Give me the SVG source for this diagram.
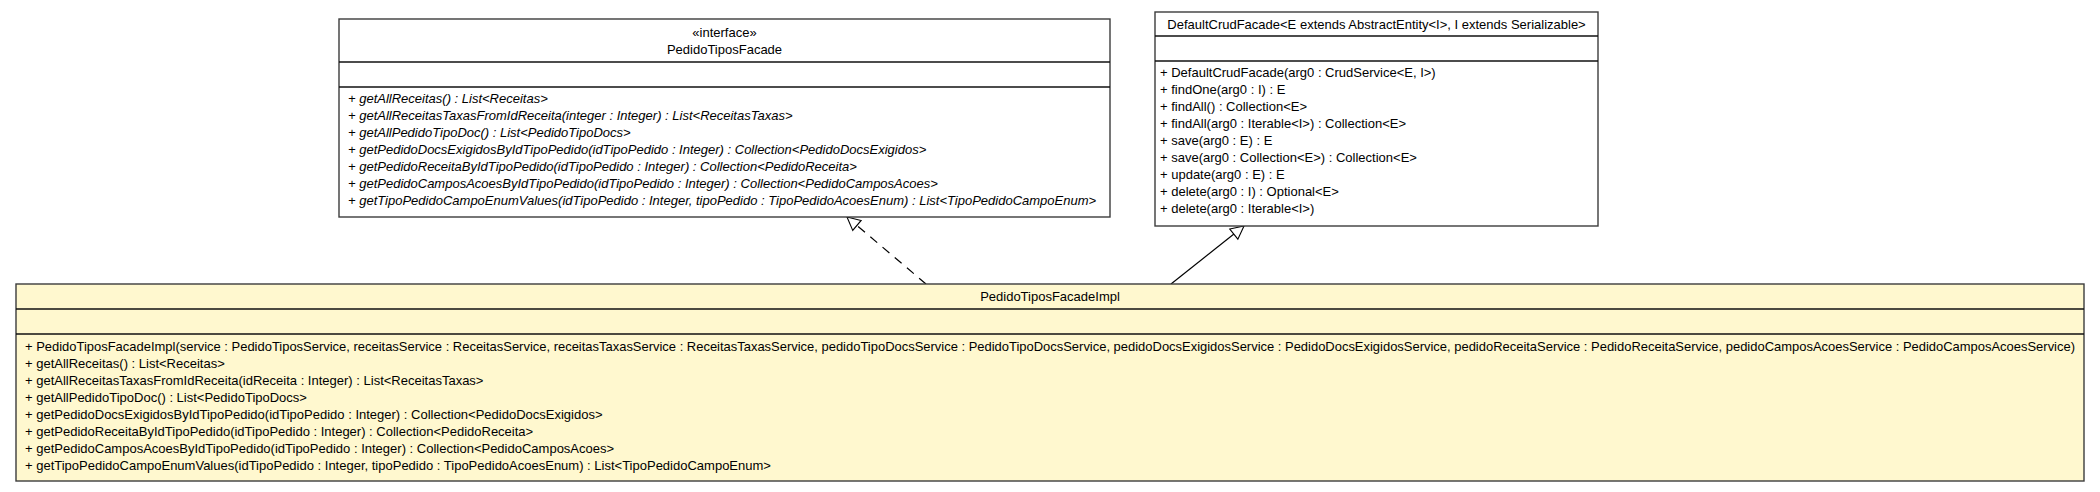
<svg xmlns="http://www.w3.org/2000/svg" width="2100" height="492" viewBox="0 0 2100 492">
<style>
text{font-family:"Liberation Sans",Arial,sans-serif;font-size:13px;fill:#000}
.it{font-style:italic}
.c{text-anchor:middle}
.box{fill:#fff;stroke:#3c3c3c;stroke-width:1.4}
.impl{fill:#fff8cf;stroke:#3c3c3c;stroke-width:1.4}
.sep{stroke:#111;stroke-width:1.6}
.edge{fill:none;stroke:#000;stroke-width:1.2}
</style>
<defs>
<marker id="tri" markerUnits="userSpaceOnUse" markerWidth="16" markerHeight="16" viewBox="-1 -8 15 16" refX="13" refY="0" orient="auto">
<path d="M0,-6.5 L13,0 L0,6.5 Z" fill="#fff" stroke="#000" stroke-width="1.1"/>
</marker>
</defs>
<g id="connectors">
<line class="edge" x1="926" y1="284" x2="847" y2="217" stroke-dasharray="9,7" marker-end="url(#tri)"/>
<line class="edge" x1="1171" y1="284" x2="1244" y2="226" marker-end="url(#tri)"/>
</g>
<g id="PedidoTiposFacade">
<rect class="box" x="339" y="19" width="771" height="198"/>
<line class="sep" x1="339" y1="62" x2="1110" y2="62"/>
<line class="sep" x1="339" y1="87" x2="1110" y2="87"/>
<text class="c" x="724.5" y="37">«interface»</text>
<text class="c" x="724.5" y="54">PedidoTiposFacade</text>
<text class="it" x="348" y="103">+ getAllReceitas() : List&lt;Receitas&gt;</text>
<text class="it" x="348" y="120">+ getAllReceitasTaxasFromIdReceita(integer : Integer) : List&lt;ReceitasTaxas&gt;</text>
<text class="it" x="348" y="137">+ getAllPedidoTipoDoc() : List&lt;PedidoTipoDocs&gt;</text>
<text class="it" x="348" y="154">+ getPedidoDocsExigidosByIdTipoPedido(idTipoPedido : Integer) : Collection&lt;PedidoDocsExigidos&gt;</text>
<text class="it" x="348" y="171">+ getPedidoReceitaByIdTipoPedido(idTipoPedido : Integer) : Collection&lt;PedidoReceita&gt;</text>
<text class="it" x="348" y="188">+ getPedidoCamposAcoesByIdTipoPedido(idTipoPedido : Integer) : Collection&lt;PedidoCamposAcoes&gt;</text>
<text class="it" x="348" y="205">+ getTipoPedidoCampoEnumValues(idTipoPedido : Integer, tipoPedido : TipoPedidoAcoesEnum) : List&lt;TipoPedidoCampoEnum&gt;</text>
</g>
<g id="DefaultCrudFacade">
<rect class="box" x="1155" y="12" width="443" height="214"/>
<line class="sep" x1="1155" y1="36" x2="1598" y2="36"/>
<line class="sep" x1="1155" y1="61" x2="1598" y2="61"/>
<text class="c" x="1376.5" y="29">DefaultCrudFacade&lt;E extends AbstractEntity&lt;I&gt;, I extends Serializable&gt;</text>
<text x="1160" y="77">+ DefaultCrudFacade(arg0 : CrudService&lt;E, I&gt;)</text>
<text x="1160" y="94">+ findOne(arg0 : I) : E</text>
<text x="1160" y="111">+ findAll() : Collection&lt;E&gt;</text>
<text x="1160" y="128">+ findAll(arg0 : Iterable&lt;I&gt;) : Collection&lt;E&gt;</text>
<text x="1160" y="145">+ save(arg0 : E) : E</text>
<text x="1160" y="162">+ save(arg0 : Collection&lt;E&gt;) : Collection&lt;E&gt;</text>
<text x="1160" y="179">+ update(arg0 : E) : E</text>
<text x="1160" y="196">+ delete(arg0 : I) : Optional&lt;E&gt;</text>
<text x="1160" y="213">+ delete(arg0 : Iterable&lt;I&gt;)</text>
</g>
<g id="PedidoTiposFacadeImpl">
<rect class="impl" x="16" y="284" width="2068" height="197"/>
<line class="sep" x1="16" y1="309" x2="2084" y2="309"/>
<line class="sep" x1="16" y1="334" x2="2084" y2="334"/>
<text class="c" x="1050" y="301">PedidoTiposFacadeImpl</text>
<text x="25" y="351" textLength="2050" lengthAdjust="spacingAndGlyphs">+ PedidoTiposFacadeImpl(service : PedidoTiposService, receitasService : ReceitasService, receitasTaxasService : ReceitasTaxasService, pedidoTipoDocsService : PedidoTipoDocsService, pedidoDocsExigidosService : PedidoDocsExigidosService, pedidoReceitaService : PedidoReceitaService, pedidoCamposAcoesService : PedidoCamposAcoesService)</text>
<text x="25" y="368">+ getAllReceitas() : List&lt;Receitas&gt;</text>
<text x="25" y="385">+ getAllReceitasTaxasFromIdReceita(idReceita : Integer) : List&lt;ReceitasTaxas&gt;</text>
<text x="25" y="402">+ getAllPedidoTipoDoc() : List&lt;PedidoTipoDocs&gt;</text>
<text x="25" y="419">+ getPedidoDocsExigidosByIdTipoPedido(idTipoPedido : Integer) : Collection&lt;PedidoDocsExigidos&gt;</text>
<text x="25" y="436">+ getPedidoReceitaByIdTipoPedido(idTipoPedido : Integer) : Collection&lt;PedidoReceita&gt;</text>
<text x="25" y="453">+ getPedidoCamposAcoesByIdTipoPedido(idTipoPedido : Integer) : Collection&lt;PedidoCamposAcoes&gt;</text>
<text x="25" y="470">+ getTipoPedidoCampoEnumValues(idTipoPedido : Integer, tipoPedido : TipoPedidoAcoesEnum) : List&lt;TipoPedidoCampoEnum&gt;</text>
</g>
</svg>
